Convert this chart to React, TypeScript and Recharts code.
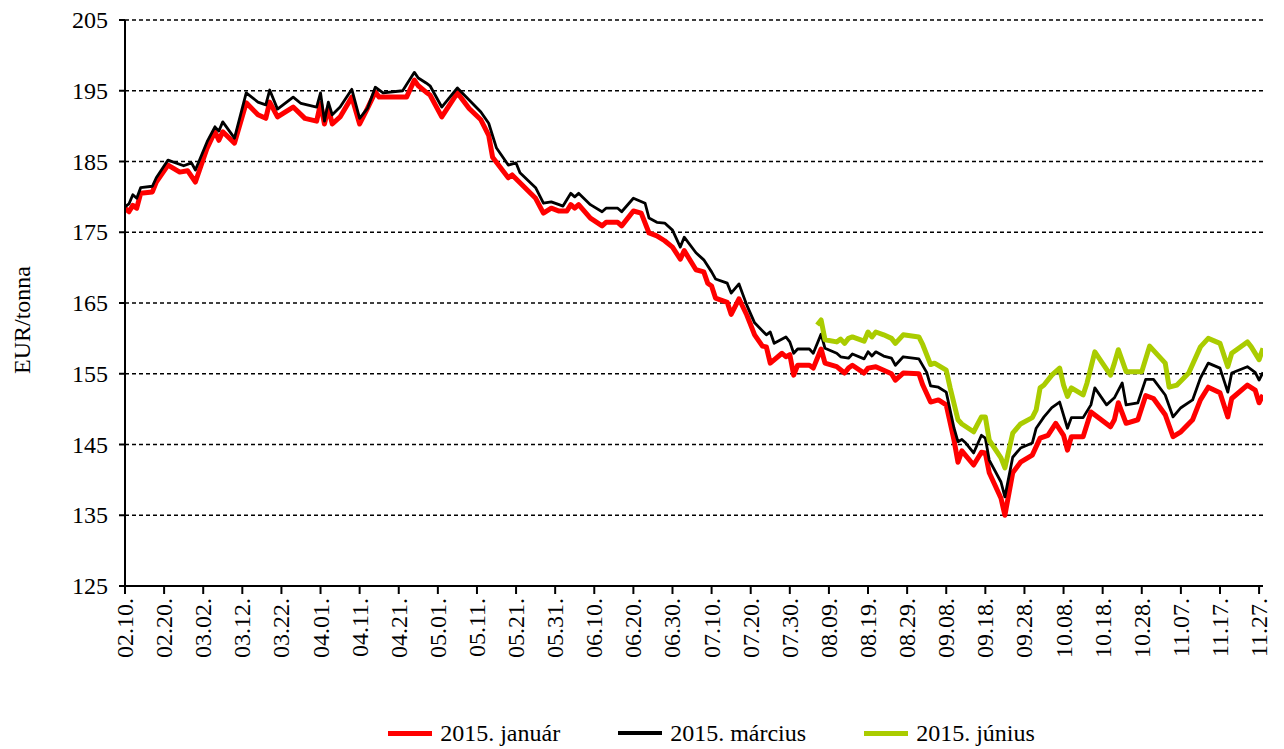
import React from 'react';
import { LineChart, Line, XAxis, YAxis, CartesianGrid, Legend } from 'recharts';

const tickLabels = ['02.10.', '02.20.', '03.02.', '03.12.', '03.22.', '04.01.', '04.11.', '04.21.', '05.01.', '05.11.', '05.21.', '05.31.', '06.10.', '06.20.', '06.30.', '07.10.', '07.20.', '07.30.', '08.09.', '08.19.', '08.29.', '09.08.', '09.18.', '09.28.', '10.08.', '10.18.', '10.28.', '11.07.', '11.17.', '11.27.'];
const yTicks = [125, 135, 145, 155, 165, 175, 185, 195, 205];

// day index counted from 02.10.
const redDays = [0, 1, 2, 3, 4, 7, 8, 11, 14, 16, 18, 21, 23, 24, 25, 28, 31, 34, 36, 37, 39, 43, 46, 49, 50, 51, 52, 53, 55, 58, 60, 62, 64, 65, 72, 74, 75, 77, 78, 81, 85, 88, 91, 93, 94, 98, 99, 101, 105, 107, 109, 111, 113, 114, 115, 116, 119, 122, 123, 126, 127, 130, 132, 134, 136, 138, 140, 142, 143, 146, 148, 149, 150, 151, 154, 155, 157, 159, 161, 163, 164, 165, 168, 169, 170, 171, 172, 175, 176, 178, 179, 182, 184, 185, 186, 189, 190, 192, 194, 196, 197, 199, 203, 204, 206, 208, 210, 212, 213, 214, 217, 219, 220, 221, 224, 225, 227, 229, 232, 234, 236, 238, 240, 241, 242, 245, 247, 252, 253, 254, 256, 259, 261, 263, 266, 268, 270, 273, 275, 277, 280, 282, 283, 287, 289, 290, 291];
const redValues = [178.4, 177.9, 178.8, 178.4, 180.5, 180.7, 182.1, 184.5, 183.5, 183.7, 182.1, 186.9, 189.2, 188.0, 189.2, 187.6, 193.3, 191.6, 191.1, 193.4, 191.3, 192.7, 191.1, 190.7, 193.2, 190.3, 192.6, 190.3, 191.3, 194.1, 190.3, 192.5, 194.8, 194.1, 194.1, 196.5, 195.7, 194.8, 194.4, 191.3, 194.7, 192.5, 190.9, 188.7, 185.6, 182.7, 183.1, 182.0, 179.8, 177.7, 178.4, 178.0, 178.0, 178.9, 178.4, 178.9, 177.0, 175.9, 176.4, 176.4, 175.9, 178.0, 177.7, 174.9, 174.5, 173.8, 172.9, 171.2, 172.4, 169.7, 169.4, 167.8, 167.4, 165.7, 165.1, 163.4, 165.6, 163.3, 160.5, 158.9, 158.8, 156.5, 157.9, 157.4, 157.7, 154.8, 156.2, 156.2, 155.8, 158.5, 156.5, 156.0, 155.1, 155.8, 156.2, 155.1, 155.8, 156.0, 155.5, 155.0, 154.1, 155.1, 155.0, 153.4, 151.0, 151.3, 150.6, 145.6, 142.5, 144.1, 142.1, 143.9, 143.8, 141.0, 137.4, 135.0, 141.0, 142.5, 143.5, 145.9, 146.3, 148.0, 146.3, 144.2, 146.1, 146.1, 149.6, 147.5, 148.5, 150.9, 148.0, 148.5, 151.9, 151.5, 149.2, 146.1, 146.8, 148.5, 151.3, 153.1, 152.3, 148.9, 151.5, 153.4, 152.7, 150.9, 152.0];

const blackDays = [0, 1, 2, 3, 4, 7, 8, 11, 15, 17, 18, 21, 23, 24, 25, 28, 31, 34, 36, 37, 39, 43, 45, 49, 50, 51, 52, 53, 55, 58, 60, 62, 64, 66, 71, 74, 75, 77, 78, 81, 85, 88, 91, 93, 95, 98, 100, 101, 105, 107, 109, 111, 112, 114, 115, 116, 119, 122, 123, 126, 127, 130, 133, 134, 136, 138, 140, 142, 143, 146, 148, 150, 151, 154, 155, 157, 159, 161, 164, 165, 166, 169, 170, 171, 172, 175, 176, 178, 179, 182, 183, 185, 186, 189, 190, 191, 192, 194, 196, 197, 199, 203, 205, 206, 208, 210, 212, 213, 214, 215, 217, 219, 220, 221, 224, 225, 227, 229, 232, 233, 235, 237, 239, 241, 242, 245, 247, 248, 251, 253, 255, 256, 259, 261, 263, 266, 268, 270, 273, 275, 277, 280, 282, 283, 287, 289, 290, 291];
const blackValues = [178.6, 179.0, 180.3, 179.8, 181.3, 181.5, 182.7, 185.2, 184.4, 184.8, 183.8, 187.8, 189.9, 189.3, 190.6, 188.3, 194.7, 193.4, 193.0, 195.1, 192.4, 194.1, 193.2, 192.7, 194.7, 190.7, 193.4, 191.6, 192.7, 195.2, 191.1, 192.5, 195.5, 194.7, 195.0, 197.6, 196.8, 196.1, 195.7, 192.7, 195.4, 193.7, 192.0, 190.4, 186.9, 184.5, 184.8, 183.4, 181.3, 179.1, 179.3, 178.9, 178.7, 180.5, 180.0, 180.5, 178.9, 177.9, 178.4, 178.4, 177.9, 179.8, 179.1, 177.0, 176.4, 176.3, 175.3, 172.9, 174.3, 172.1, 171.1, 169.4, 168.4, 167.8, 166.4, 167.7, 164.7, 162.2, 160.5, 160.9, 159.3, 160.2, 159.5, 157.9, 158.5, 158.5, 157.9, 160.6, 158.6, 157.9, 157.4, 157.2, 157.8, 157.1, 158.1, 157.5, 158.1, 157.5, 157.2, 156.2, 157.4, 157.1, 155.2, 153.3, 153.1, 152.4, 147.3, 145.4, 145.7, 145.2, 143.8, 146.3, 145.9, 142.8, 139.7, 137.6, 143.2, 144.5, 145.2, 147.3, 148.9, 150.2, 151.0, 147.3, 148.8, 148.8, 150.6, 153.0, 150.6, 151.6, 153.7, 150.6, 150.9, 154.2, 154.2, 152.0, 148.9, 150.2, 151.3, 154.4, 156.5, 155.8, 152.4, 155.1, 156.0, 155.2, 154.1, 155.2];

const greenDays = [177, 178, 179, 182, 183, 184, 185, 186, 189, 190, 191, 192, 194, 196, 197, 199, 203, 204, 206, 207, 210, 211, 213, 214, 217, 219, 220, 221, 224, 225, 227, 229, 232, 233, 234, 235, 237, 239, 240, 241, 242, 245, 246, 248, 252, 253, 254, 256, 257, 260, 262, 266, 267, 269, 272, 275, 277, 280, 282, 283, 287, 288, 290, 291];
const greenValues = [161.9, 162.6, 159.8, 159.5, 159.9, 159.3, 160.0, 160.2, 159.6, 160.9, 160.2, 160.9, 160.5, 160.0, 159.3, 160.5, 160.2, 159.1, 156.3, 156.5, 155.5, 153.0, 148.5, 147.9, 146.8, 148.9, 148.9, 145.6, 143.1, 141.7, 146.6, 147.9, 148.8, 149.9, 153.0, 153.4, 154.8, 155.8, 153.4, 151.8, 153.0, 152.0, 153.7, 158.1, 154.8, 156.5, 158.4, 155.3, 155.3, 155.3, 158.9, 156.5, 153.1, 153.4, 155.1, 158.8, 160.0, 159.3, 156.0, 157.9, 159.5, 158.8, 157.0, 158.6];

const seriesNames = ['2015. január', '2015. március', '2015. június'];
const seriesColors = ['#ff0000', '#000000', '#aacc00'];

const FONT = '"Liberation Serif", "Times New Roman", serif';
const FS = 24;

const toData = (days: number[], values: number[]) => days.map((d, i) => ({ d, v: values[i] }));
const redData = toData(redDays, redValues);
const blackData = toData(blackDays, blackValues);
const greenData = toData(greenDays, greenValues);
const xTickDays = tickLabels.map((_, i) => i * 10);

const XTick = (props: any) => {
  const { x, y, payload } = props;
  const label = tickLabels[Math.round(payload.value / 10)];
  return (
    <text x={x} y={y} transform={`rotate(-90, ${x}, ${y})`} textAnchor="end" dominantBaseline="central" fontFamily={FONT} fontSize={FS} fill="#000">
      {label}
    </text>
  );
};

const YTick = (props: any) => {
  const { x, y, payload } = props;
  return (
    <text x={x} y={y} textAnchor="end" dominantBaseline="central" fontFamily={FONT} fontSize={FS} fill="#000">
      {payload.value}
    </text>
  );
};

const LegendContent = () => (
  <div style={{ display: 'flex', alignItems: 'center', justifyContent: 'center', height: 32, fontFamily: FONT, fontSize: FS, color: '#000', paddingLeft: 160 }}>
    {seriesNames.map((n, i) => (
      <div key={n} style={{ display: 'flex', alignItems: 'center', marginRight: i < 2 ? 58 : 0 }}>
        <span style={{ display: 'inline-block', width: 44, height: i === 1 ? 4 : 5, background: seriesColors[i], marginRight: 8 }} />
        <span>{n}</span>
      </div>
    ))}
  </div>
);

const YLabel = (props: any) => {
  const vb = props.viewBox || {};
  const cx = 22;
  const cy = (vb.y || 20) + (vb.height || 566) / 2 + 17;
  return (
    <text x={cx} y={cy} transform={`rotate(-90, ${cx}, ${cy})`} textAnchor="middle" dominantBaseline="central" fontFamily={FONT} fontSize={FS} fill="#000">
      EUR/tonna
    </text>
  );
};

export default function App() {
  return (
    <div style={{ position: 'absolute', left: 0, top: 0, width: 1284, height: 749, background: '#fff' }}>
      <LineChart width={1284} height={749} margin={{ top: 20, right: 21, left: 0, bottom: 0 }}>
        <CartesianGrid vertical={false} stroke="#000" strokeDasharray="4 3" strokeWidth={1.4} />
        <XAxis
          dataKey="d"
          type="number"
          domain={[0, 291]}
          ticks={xTickDays}
          interval={0}
          allowDataOverflow
          height={131}
          tickSize={8}
          tickMargin={4}
          tick={<XTick />}
          axisLine={{ stroke: '#000', strokeWidth: 2 }}
          tickLine={{ stroke: '#000', strokeWidth: 2 }}
        />
        <YAxis
          type="number"
          domain={[125, 205]}
          ticks={yTicks}
          interval={0}
          width={125}
          tickSize={6}
          tickMargin={11}
          tick={<YTick />}
          axisLine={{ stroke: '#000', strokeWidth: 2 }}
          tickLine={{ stroke: '#000', strokeWidth: 2 }}
          label={<YLabel />}
        />
        <Legend verticalAlign="bottom" content={<LegendContent />} />
        <Line data={redData} dataKey="v" name={seriesNames[0]} type="linear" stroke={seriesColors[0]} strokeWidth={5} dot={false} isAnimationActive={false} strokeLinejoin="round" />
        <Line data={blackData} dataKey="v" name={seriesNames[1]} type="linear" stroke={seriesColors[1]} strokeWidth={2.8} dot={false} isAnimationActive={false} strokeLinejoin="round" />
        <Line data={greenData} dataKey="v" name={seriesNames[2]} type="linear" stroke={seriesColors[2]} strokeWidth={5} dot={false} isAnimationActive={false} strokeLinejoin="round" />
      </LineChart>
    </div>
  );
}
